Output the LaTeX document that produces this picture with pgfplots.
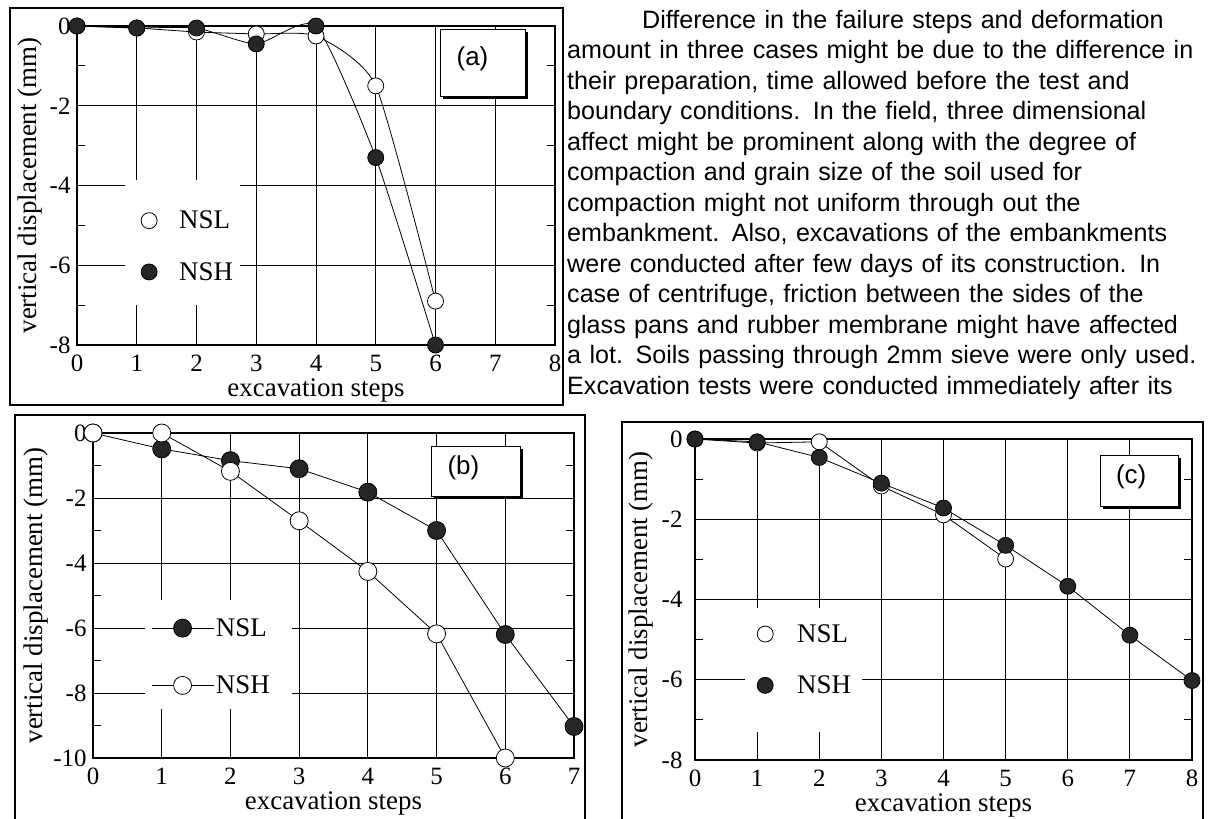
\documentclass[border=0pt]{standalone}
\usepackage{pgfplots}
\pgfplotsset{compat=1.18}
\usepackage{fontspec}
\setmainfont{Liberation Serif}
\newfontfamily\sansfont{Liberation Sans}
\pgfplotsset{
  myaxis/.style={
    scale only axis, anchor=south west, clip=false,
    axis line style={line width=1.3bp},
    grid=major, major grid style={black, line width=0.9bp},
    tick align=inside, major tick length=0bp, minor tick length=8bp,
    minor tick style={black, line width=0.9bp},
    tick label style={font=\fontsize{25}{27}\selectfont},
    xticklabel style={anchor=base, yshift=-26bp},
    yticklabel style={anchor=east, xshift=-3bp},
    label style={font=\fontsize{27}{29}\selectfont},
    xlabel={excavation steps}, ylabel={vertical displacement (mm)},
    legend cell align=left,
  },
  nsl open/.style={black, line width=0.8bp, mark=*, mark size=8bp, mark options={fill=white, draw=black, line width=0.8bp}},
  nsh fill/.style={black, line width=0.8bp, mark=*, mark size=8bp, mark options={fill=black!85, draw=black, line width=0.8bp}},
  markonly legend/.style={legend image code/.code={\draw[##1, only marks] plot coordinates {(8bp,0bp)};}},
}
\begin{document}
\begin{tikzpicture}
\useasboundingbox (0bp,0bp) rectangle (1217bp,-819bp);
\fill[white] (0bp,0bp) rectangle (1217bp,-819bp);
% frames
\draw[line width=1.5bp] (10bp,-8bp) rectangle (563bp,-405bp);
\draw[line width=1.5bp] (15bp,-830bp) -- (15bp,-415bp) -- (585bp,-415bp) -- (585bp,-830bp);
\draw[line width=1.5bp] (622bp,-830bp) -- (622bp,-422bp) -- (1203bp,-422bp) -- (1203bp,-830bp);
% paragraph
\node[anchor=north west, inner sep=0pt, text width=644bp, align=left,
      font=\sansfont\fontsize{25.2}{30.6}\selectfont] at (567bp,-9bp) {%
\noindent\rule{0pt}{19bp}\hspace*{75bp}\makebox[569bp][s]{Difference in the failure steps and deformation}\\
\makebox[644bp][s]{amount in three cases might be due to the difference in}\\
\makebox[644bp][s]{their preparation, time allowed before the test and}\\
\makebox[644bp][s]{boundary conditions. In the field, three dimensional}\\
\makebox[644bp][s]{affect might be prominent along with the degree of}\\
\makebox[644bp][s]{compaction and grain size of the soil used for}\\
\makebox[644bp][s]{compaction might not uniform through out the}\\
\makebox[644bp][s]{embankment. Also, excavations of the embankments}\\
\makebox[644bp][s]{were conducted after few days of its construction. In}\\
\makebox[644bp][s]{case of centrifuge, friction between the sides of the}\\
\makebox[644bp][s]{glass pans and rubber membrane might have affected}\\
\makebox[644bp][s]{a lot. Soils passing through 2mm sieve were only used.}\\
\makebox[644bp][s]{Excavation tests were conducted immediately after its}};

% ---------------- (a)
\begin{axis}[myaxis, at={(77bp,-345bp)}, width=478bp, height=319bp,
  xmin=0, xmax=8, ymin=-8, ymax=0,
  xtick={0,1,2,3,4,5,6,7,8}, xticklabels={0,1,2,3,4,5,6,7,8},
  ytick={-8,-6,-4,-2,0}, yticklabels={-8,-6,-4,-2,0},
  minor ytick={-7,-5,-3,-1},
  xlabel style={at={(axis description cs:0.5,-0.142)}, anchor=center},
  ylabel style={at={(axis description cs:-0.0985,0.5)}, anchor=center},
  markonly legend,
  legend style={draw=none, fill=none, at={(axis cs:1.02,-5.525)}, anchor=west,
    font=\fontsize{27}{29}\selectfont, nodes={inner sep=0pt}, row sep=32bp, column sep=22bp},
]
\fill[white] (axis cs:0.81,-3.85) rectangle (axis cs:2.72,-7.0);
\fill[black] ([shift={(2.5bp,-2.5bp)}]axis cs:6.08,-0.1) rectangle ([shift={(2.5bp,-2.5bp)}]axis cs:7.5,-1.76);
\draw[fill=white, line width=1bp] (axis cs:6.08,-0.1) rectangle (axis cs:7.5,-1.76);
\node[font=\sansfont\fontsize{26}{28}\selectfont] at (axis cs:6.62,-0.83) {(a)};
\addplot[nsl open, smooth, tension=0.35] coordinates {(0,0) (1,-0.05) (2,-0.15) (3,-0.2) (4,-0.25) (5,-1.5) (6,-6.9)};
\addlegendentry{NSL}
\addplot[nsh fill, smooth, tension=0.35] coordinates {(0,0) (1,-0.05) (2,-0.05) (3,-0.45) (4,0) (5,-3.3) (6,-8)};
\addlegendentry{NSH}
\end{axis}

% ---------------- (b)
\begin{axis}[myaxis, at={(93bp,-758bp)}, width=481bp, height=325bp,
  xmin=0, xmax=7, ymin=-10, ymax=0,
  xtick={0,1,2,3,4,5,6,7}, xticklabels={0,1,2,3,4,5,6,7},
  ytick={-10,-8,-6,-4,-2,0}, yticklabels={-10,-8,-6,-4,-2,0},
  minor ytick={-9,-7,-5,-3,-1},
  yticklabel style={anchor=east, xshift=0bp},
  xlabel style={at={(axis description cs:0.5,-0.14)}, anchor=center},
  ylabel style={at={(axis description cs:-0.1185,0.5)}, anchor=center},
  legend image code/.code={\draw[#1, mark repeat=2, mark phase=2] plot coordinates {(0bp,0bp) (31bp,0bp) (62bp,0bp)};},
  legend style={draw=none, fill=none, at={(axis cs:0.8,-6.885)}, anchor=west,
    font=\fontsize{27}{29}\selectfont, nodes={inner sep=0pt}, row sep=38bp, column sep=2bp},
]
\fill[white] (axis cs:0.75,-5.13) rectangle (axis cs:2.9,-8.5);
\fill[black] ([shift={(2.5bp,-2.5bp)}]axis cs:4.93,-0.41) rectangle ([shift={(2.5bp,-2.5bp)}]axis cs:6.22,-1.95);
\draw[fill=white, line width=1bp] (axis cs:4.93,-0.41) rectangle (axis cs:6.22,-1.95);
\node[font=\sansfont\fontsize{26}{28}\selectfont] at (axis cs:5.39,-1.08) {(b)};
\addplot[nsh fill, mark size=9bp] coordinates {(0,0) (1,-0.49) (2,-0.85) (3,-1.1) (4,-1.82) (5,-3.0) (6,-6.2) (7,-9.03)};
\addlegendentry{NSL}
\addplot[nsl open, mark size=9bp] coordinates {(0,0) (1,0) (2,-1.18) (3,-2.7) (4,-4.26) (5,-6.18) (6,-10)};
\addlegendentry{NSH}
\end{axis}

% ---------------- (c)
\begin{axis}[myaxis, at={(695bp,-760bp)}, width=497bp, height=321bp,
  xmin=0, xmax=8, ymin=-8, ymax=0,
  xtick={0,1,2,3,4,5,6,7,8}, xticklabels={0,1,2,3,4,5,6,7,8},
  ytick={-8,-6,-4,-2,0}, yticklabels={-8,-6,-4,-2,0},
  minor ytick={-7,-5,-3,-1},
  yticklabel style={anchor=east, xshift=-6bp},
  xlabel style={at={(axis description cs:0.5,-0.142)}, anchor=center},
  ylabel style={at={(axis description cs:-0.109,0.5)}, anchor=center},
  markonly legend,
  legend style={draw=none, fill=none, at={(axis cs:0.95,-5.5)}, anchor=west,
    font=\fontsize{27}{29}\selectfont, nodes={inner sep=0pt}, row sep=32bp, column sep=24bp},
]
\fill[white] (axis cs:0.8,-4.2) rectangle (axis cs:2.69,-7.3);
\fill[black] ([shift={(2.5bp,-2.5bp)}]axis cs:6.52,-0.4) rectangle ([shift={(2.5bp,-2.5bp)}]axis cs:7.79,-1.67);
\draw[fill=white, line width=1bp] (axis cs:6.52,-0.4) rectangle (axis cs:7.79,-1.67);
\node[font=\sansfont\fontsize{26}{28}\selectfont] at (axis cs:7.02,-0.94) {(c)};
\addplot[nsl open] coordinates {(0,0) (1,-0.1) (2,-0.07) (3,-1.17) (4,-1.89) (5,-2.99)};
\addlegendentry{NSL}
\addplot[nsh fill] coordinates {(0,0) (1,-0.07) (2,-0.46) (3,-1.1) (4,-1.72) (5,-2.65) (6,-3.67) (7,-4.89) (8,-6.02)};
\addlegendentry{NSH}
\end{axis}
\end{tikzpicture}
\end{document}
